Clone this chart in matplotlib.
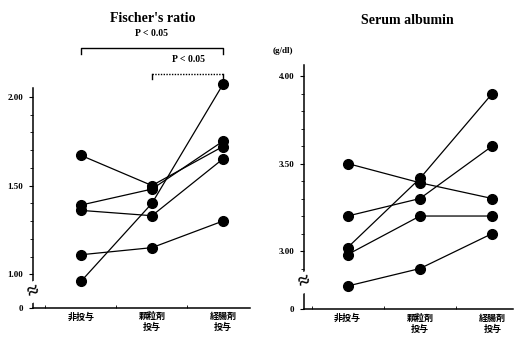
import numpy as np
import matplotlib
matplotlib.use("Agg")
import matplotlib.pyplot as plt
import matplotlib.transforms as mtransforms

plt.rcParams['font.family'] = ['Liberation Serif', 'Noto Sans CJK JP']

# groups on the x axis
groups = ["非投与", "顆粒剤\n投与", "経腸剤\n投与"]

# Fischer's ratio, one list per patient
fischer = [
    [1.67, 1.50, 1.72],
    [1.39, 1.48, 1.75],
    [1.36, 1.33, 1.65],
    [1.11, 1.15, 1.30],
    [0.96, 1.40, 2.07],
]

# serum albumin (g/dl), one list per patient
albumin = [
    [3.50, 3.39, 3.30],
    [3.20, 3.30, 3.60],
    [3.02, 3.415, 3.90],
    [2.98, 3.20, 3.20],
    [2.80, 2.90, 3.10],
]

fig = plt.figure(figsize=(5.14, 3.38), dpi=100)
ax1 = fig.add_axes([0.0642, 0.0888, 0.422, 0.651])
ax2 = fig.add_axes([0.5914, 0.0849, 0.4066, 0.7228])


def draw_panel(ax, data, zero_pos, brk, top, majors, minors, xlim):
    x = np.arange(len(groups))
    for row in data:
        ax.plot(x, row, color='black', lw=0.9, marker='o', ms=7,
                mfc='black', mec='black', clip_on=False, zorder=3)
    ax.set_xlim(*xlim)
    ax.set_ylim(zero_pos, top)
    for s in ['top', 'right']:
        ax.spines[s].set_visible(False)
    ax.spines['left'].set_linewidth(1.1)
    ax.spines['bottom'].set_linewidth(1.1)
    ax.set_yticks([zero_pos] + majors)
    ax.set_yticklabels(['0'] + ['%.2f' % v for v in majors],
                       fontsize=6.5, fontweight='bold')
    ax.set_yticks(minors, minor=True)
    ax.tick_params(axis='y', which='major', direction='out', length=3, width=0.8, pad=4)
    ax.tick_params(axis='y', which='minor', direction='out', length=2, width=0.6)
    ax.set_xticks(x)
    ax.set_xticklabels(groups, fontsize=6.5, fontweight='bold',
                       family=['Noto Sans CJK JP'], linespacing=1.25)
    ax.tick_params(axis='x', length=0, pad=3)
    ax.set_xticks([-0.5, 0.5, 1.5], minor=True)
    ax.tick_params(axis='x', which='minor', direction='in', length=2, width=0.6)
    # axis break mark
    trans = mtransforms.blended_transform_factory(ax.transAxes, ax.transData)
    ax.text(0, brk, '≈', transform=trans, ha='center', va='center',
            fontsize=15, fontweight='bold', zorder=5, rotation=20,
            bbox=dict(facecolor='white', edgecolor='none', pad=0.1))


draw_panel(ax1, fischer, 0.81, 0.90, 2.05, [1.00, 1.50, 2.00],
           np.arange(1.1, 2.0, 0.1), (-0.676, 2.38))
draw_panel(ax2, albumin, 2.667, 2.82, 4.063, [3.00, 3.50, 4.00],
           np.arange(2.9, 4.0, 0.1), (-0.604, 2.286))

# significance brackets on the Fischer's ratio panel
ax1.plot([0, 0, 2, 2], [2.24, 2.273, 2.273, 2.24], color='black', lw=1.0, clip_on=False)
ax1.text(1.0, 2.357, 'P < 0.05', ha='center', va='center', fontsize=7, fontweight='bold')
ax1.plot([1, 1], [2.10, 2.13], color='black', lw=1.0, clip_on=False)
ax1.plot([2, 2], [2.10, 2.13], color='black', lw=1.0, clip_on=False)
ax1.plot([1, 2], [2.13, 2.13], color='black', lw=1.0, ls=(0, (1, 1)), clip_on=False)
ax1.text(1.52, 2.21, 'P < 0.05', ha='center', va='center', fontsize=7, fontweight='bold')

ax2.text(-0.1, 1.04, '(g/dl)', transform=ax2.transAxes, ha='center', va='bottom',
         fontsize=6.5, fontweight='bold')

fig.text(153 / 514, 1 - 19 / 338, "Fischer's ratio", ha='center', va='center',
         fontsize=10, fontweight='bold')
fig.text(407 / 514, 1 - 20 / 338, "Serum albumin", ha='center', va='center',
         fontsize=10, fontweight='bold')

fig.savefig('out.png', dpi=100)
